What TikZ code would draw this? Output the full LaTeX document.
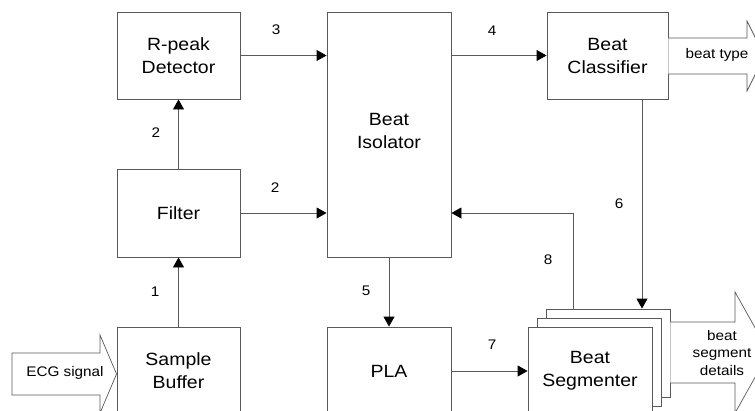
\documentclass[tikz,border=0pt]{standalone}
\usepackage{fontspec}
\setmainfont{Liberation Sans}[FakeStretch=1.1]
\usetikzlibrary{arrows.meta,calc}
\begin{document}
\begin{tikzpicture}[x=1pt,y=-1pt,
  linecol/.style={draw=black!65},
  blk/.style={linecol, line width=0.9pt, fill=white, inner sep=0pt, align=center,
    font=\fontsize{17.7}{23}\selectfont},
  arr/.style={linecol, line width=0.9pt, -{Triangle[length=10pt,width=11pt,fill=black,color=black]}},
  num/.style={font=\fontsize{13.9}{17}\selectfont, inner sep=0pt},
  big/.style={draw=black!65, line width=0.7pt, fill=white},
  bigtxt/.style={font=\fontsize{13.9}{17.5}\selectfont, align=center, inner sep=0pt}]
\useasboundingbox (0,0) rectangle (755,410);
\clip (0,0) rectangle (755,410);

% blocks
\node[blk, minimum width=123pt, minimum height=87pt] (rpeak) at (178.5,55.5) {R-peak\\Detector};
\node[blk, minimum width=123pt, minimum height=88pt] (filter) at (178.5,213) {Filter};
\node[blk, minimum width=123pt, minimum height=88pt] (sample) at (178.5,371) {Sample\\Buffer};
\node[blk, minimum width=124pt, minimum height=245pt] (iso) at (389,134.5) {};
\node[font=\fontsize{17.7}{23}\selectfont, align=center, inner sep=0pt] (isotxt) at (389,131) {Beat\\Isolator};
\node[blk, minimum width=124pt, minimum height=88pt] (pla) at (389,371) {PLA};
\node[blk, minimum width=121pt, minimum height=87pt] (classifier) at (607.5,55.5) {Beat\\Classifier};
\node[blk, minimum width=124pt, minimum height=88pt] (segback) at (608,353) {};
\node[blk, minimum width=124pt, minimum height=88pt] (segmid) at (599,362) {};
\node[blk, minimum width=124pt, minimum height=88pt] (segfront) at (590,371) {Beat\\Segmenter};

% big open arrows
\draw[big] (12,353) -- (100,353) -- (100,335) -- (sample.west |- 0,374) -- (100,413) -- (100,395) -- (12,395) -- cycle;
\node[bigtxt] (ecg) at (65,373) {ECG signal};
\draw[big] (classifier.east |- 0,38) -- (747,38) -- (747,21) -- (764.5,56) -- (747,91) -- (747,74) -- (classifier.east |- 0,74);
\node[bigtxt] (btype) at (717,55) {beat type};
\draw[big] (segback.east |- 0,322) -- (735,322) -- (735,292) -- (769,352.5) -- (735,413) -- (735,383) -- (segback.east |- 0,383);
\node[bigtxt] (bseg) at (722,353) {beat\\segment\\details};

% connectors
\draw[arr] (sample.north) -- (filter.south);
\draw[arr] (filter.north) -- (rpeak.south);
\draw[arr] (rpeak.east) -- (rpeak.east -| iso.west);
\draw[arr] (filter.east) -- (filter.east -| iso.west);
\draw[arr] (iso.south) -- (pla.north);
\draw[arr] (iso.east |- classifier.west) -- (classifier.west);
\draw[arr] (pla.east) -- (segfront.west);
\coordinate (c6) at ($(classifier.south)+(34.5,0)$);
\draw[arr] (c6) -- (c6 |- segback.north);
\coordinate (c8) at ($(segback.north)+(-35,0)$);
\draw[arr] (c8) |- ($(iso.east)+(0,78.5)$);

% numbers
\node[num] (n3) at (276,30) {3};
\node[num] (n4) at (492,31) {4};
\node[num] (n2a) at (156,133) {2};
\node[num] (n2b) at (275,188) {2};
\node[num] (n6) at (619,204) {6};
\node[num] (n8) at (548,260) {8};
\node[num] (n5) at (366,291) {5};
\node[num] (n1) at (155,292) {1};
\node[num] (n7) at (492,345) {7};
\end{tikzpicture}
\end{document}
